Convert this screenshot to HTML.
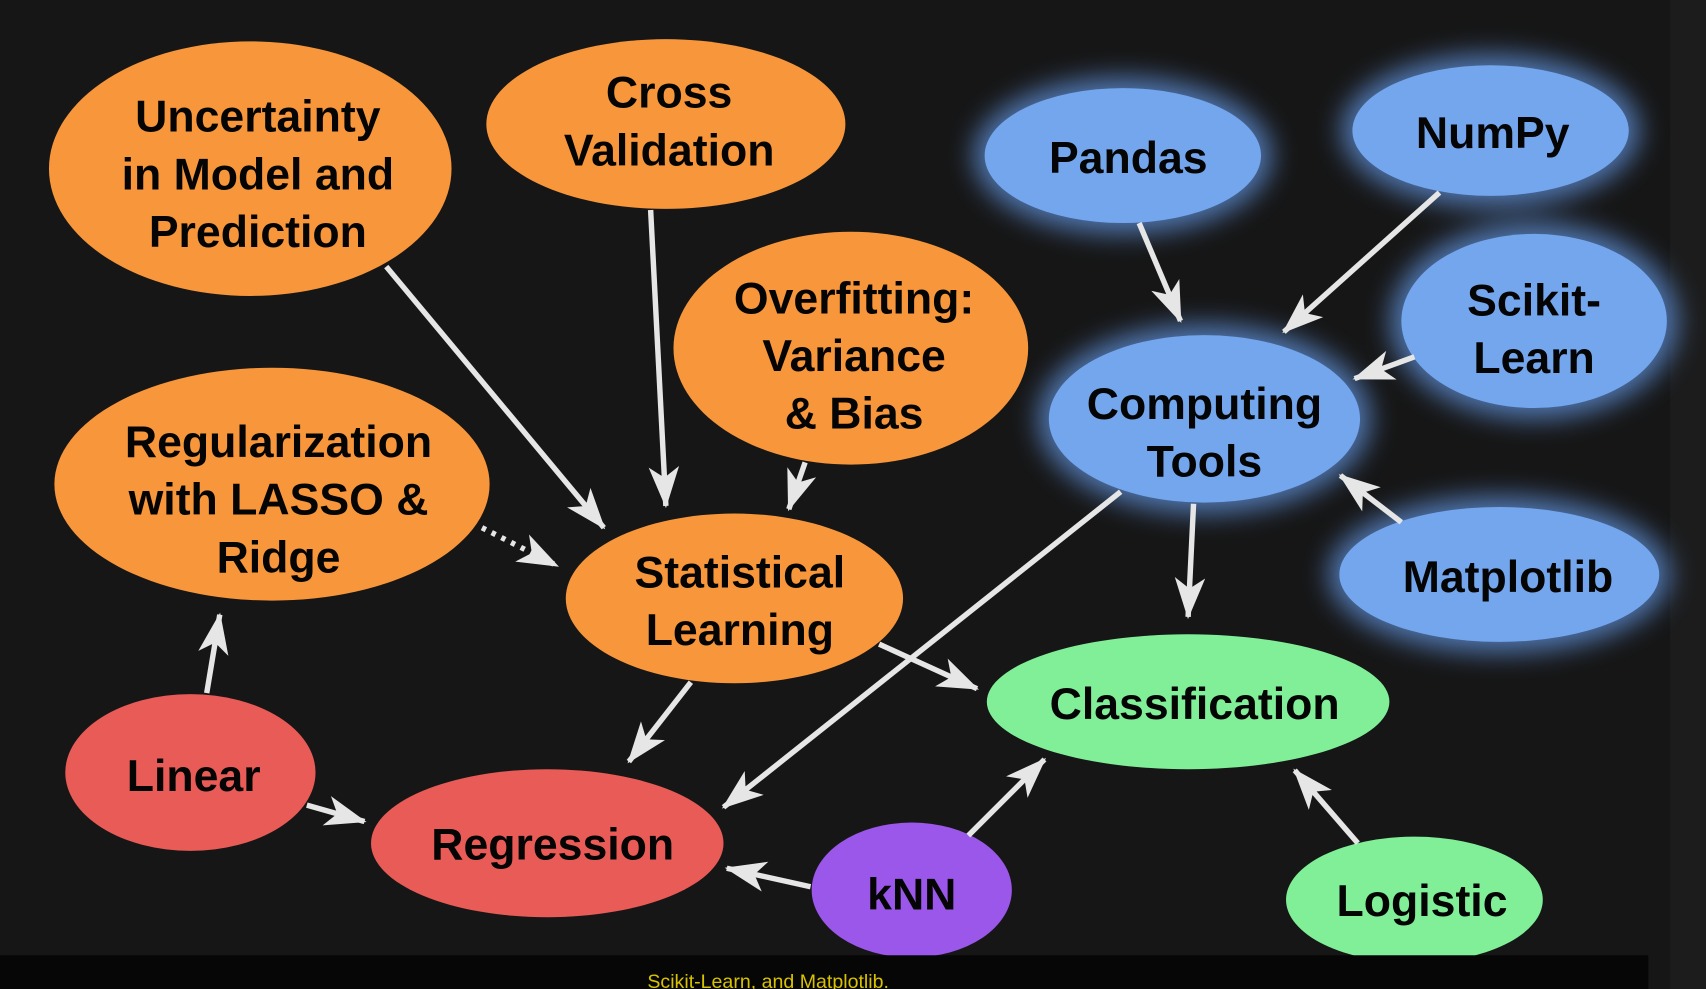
<!DOCTYPE html>
<html><head><meta charset="utf-8"><style>
html,body{margin:0;padding:0;background:#161616;overflow:hidden}
svg{display:block}
text{font-family:"Liberation Sans",sans-serif;font-weight:bold;fill:#050505;text-anchor:middle}
</style></head><body>
<svg width="1706" height="989" viewBox="0 0 1568 909" preserveAspectRatio="none" xmlns="http://www.w3.org/2000/svg">
<defs>
<filter id="glow" x="-40%" y="-40%" width="180%" height="180%"><feGaussianBlur stdDeviation="12"/></filter>
<marker id="a" markerUnits="userSpaceOnUse" markerWidth="40" markerHeight="40" refX="36" refY="16" orient="auto">
<path d="M0,2 L38,16 L0,30 L10,16 z" fill="#e6e6e6"/></marker>
</defs>
<rect width="1568" height="909" fill="#161616"/>
<rect x="1535" y="0" width="33" height="909" fill="#1c1c1c"/>
<g fill="#5f8fd6" opacity="0.8" filter="url(#glow)">
<ellipse cx="1032" cy="143" rx="137" ry="72"/>
<ellipse cx="1370" cy="120" rx="137" ry="70"/>
<ellipse cx="1410" cy="295" rx="132" ry="90"/>
<ellipse cx="1107" cy="385" rx="153" ry="87"/>
<ellipse cx="1378" cy="528" rx="157" ry="72"/>
</g>
<g fill="#f7963a">
<ellipse cx="230" cy="155" rx="185" ry="117"/>
<ellipse cx="612" cy="114" rx="165" ry="78"/>
<ellipse cx="782" cy="320" rx="163" ry="107"/>
<ellipse cx="250" cy="445" rx="200" ry="107"/>
<ellipse cx="675" cy="550" rx="155" ry="78"/>
</g>
<g fill="#74a6ee">
<ellipse cx="1032" cy="143" rx="127" ry="62"/>
<ellipse cx="1370" cy="120" rx="127" ry="60"/>
<ellipse cx="1410" cy="295" rx="122" ry="80"/>
<ellipse cx="1107" cy="385" rx="143" ry="77"/>
<ellipse cx="1378" cy="528" rx="147" ry="62"/>
</g>
<g fill="#80ef98">
<ellipse cx="1092" cy="645" rx="185" ry="62"/>
<ellipse cx="1300" cy="827" rx="118" ry="58"/>
</g>
<g fill="#e85b56">
<ellipse cx="175" cy="710" rx="115" ry="72"/>
<ellipse cx="503" cy="775" rx="162" ry="68"/>
</g>
<ellipse cx="838" cy="818" rx="92" ry="62" fill="#9a57ea"/>
<g stroke="#e6e6e6" stroke-width="5" fill="none" marker-end="url(#a)">
<line x1="355" y1="245" x2="555" y2="485"/>
<line x1="598" y1="193" x2="612" y2="465"/>
<line x1="740" y1="425" x2="725" y2="468"/>
<line x1="443" y1="485" x2="512" y2="520" stroke-dasharray="4 6"/>
<line x1="1047" y1="205" x2="1085" y2="295"/>
<line x1="1323" y1="177" x2="1180" y2="305"/>
<line x1="1300" y1="328" x2="1245" y2="348"/>
<line x1="1288" y1="480" x2="1232" y2="437"/>
<line x1="1097" y1="463" x2="1092" y2="567"/>
<line x1="1030" y1="452" x2="665" y2="742"/>
<line x1="808" y1="592" x2="898" y2="633"/>
<line x1="635" y1="627" x2="578" y2="700"/>
<line x1="190" y1="637" x2="202" y2="565"/>
<line x1="282" y1="740" x2="335" y2="755"/>
<line x1="745" y1="815" x2="668" y2="798"/>
<line x1="890" y1="768" x2="960" y2="698"/>
<line x1="1248" y1="775" x2="1190" y2="708"/>
</g>
<g font-size="41">
<text x="237" y="121">Uncertainty</text>
<text x="237" y="174">in Model and</text>
<text x="237" y="227">Prediction</text>
<text x="615" y="99">Cross</text>
<text x="615" y="152">Validation</text>
<text x="785" y="288">Overfitting:</text>
<text x="785" y="341">Variance</text>
<text x="785" y="394">&amp; Bias</text>
<text x="256" y="420">Regularization</text>
<text x="256" y="473">with LASSO &amp;</text>
<text x="256" y="526">Ridge</text>
<text x="680" y="540">Statistical</text>
<text x="680" y="593">Learning</text>
<text x="1037" y="159">Pandas</text>
<text x="1372" y="136">NumPy</text>
<text x="1410" y="290">Scikit-</text>
<text x="1410" y="343">Learn</text>
<text x="1107" y="385">Computing</text>
<text x="1107" y="438">Tools</text>
<text x="1386" y="544">Matplotlib</text>
<text x="1098" y="661">Classification</text>
<text x="1307" y="842">Logistic</text>
<text x="178" y="727">Linear</text>
<text x="508" y="790">Regression</text>
<text x="838" y="836">kNN</text>
</g>
<rect x="0" y="878" width="1515" height="31" fill="#060606"/>
<text x="595" y="908" font-size="18" style="font-weight:normal;fill:#d8c200;text-anchor:start">Scikit-Learn, and Matplotlib.</text>
</svg>
</body></html>
